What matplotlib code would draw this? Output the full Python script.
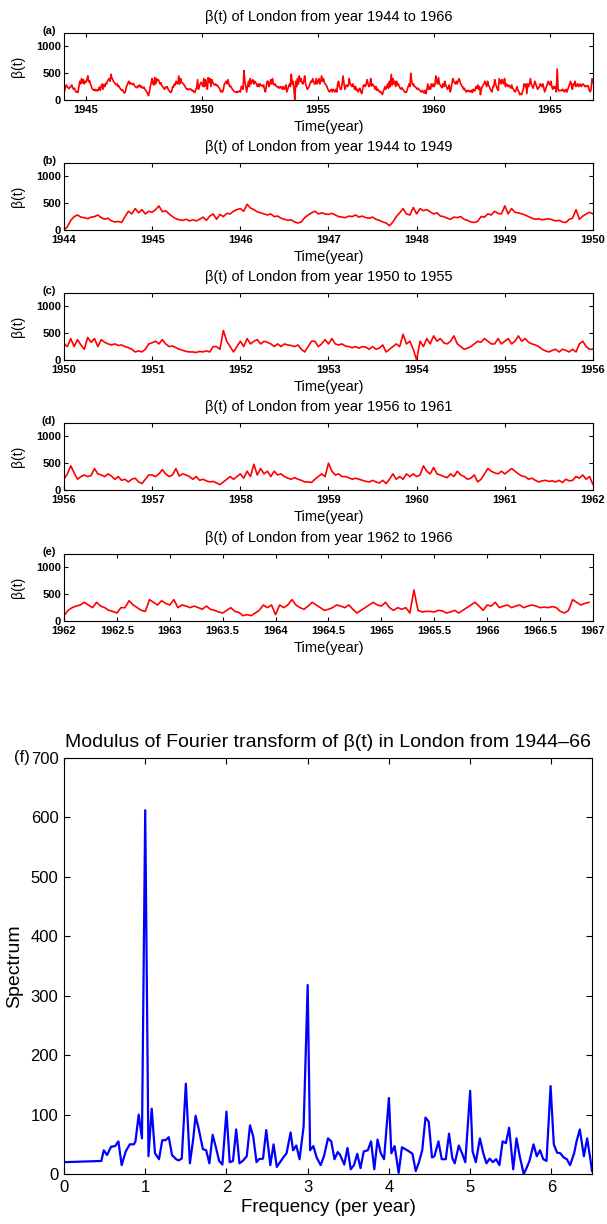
import numpy as np
import matplotlib
matplotlib.use('Agg')
import matplotlib.pyplot as plt

plt.rcParams['font.family'] = ['Liberation Sans', 'DejaVu Sans']

# biweekly transmission rate beta(t), London, one list per year (26 values each)
b1944 = [0, 60, 180, 250, 280, 240, 230, 210, 240, 250, 280, 230, 200, 220, 170, 150, 160, 140, 250, 350, 300, 400, 320, 380, 300, 350]
b1945 = [330, 380, 450, 340, 360, 300, 250, 210, 190, 180, 200, 170, 190, 170, 200, 240, 180, 260, 300, 200, 290, 250, 310, 300, 350, 380]
b1946 = [400, 350, 480, 410, 380, 340, 320, 300, 280, 300, 250, 260, 220, 200, 180, 190, 150, 130, 150, 230, 280, 320, 350, 300, 320, 300]
b1947 = [290, 310, 280, 250, 240, 230, 260, 250, 280, 240, 260, 230, 220, 240, 200, 180, 150, 130, 80, 150, 250, 320, 400, 300, 280, 420]
b1948 = [300, 400, 360, 380, 340, 300, 320, 260, 250, 220, 200, 240, 230, 250, 200, 180, 150, 140, 160, 250, 240, 300, 280, 350, 310, 300]
b1949 = [450, 300, 400, 330, 320, 300, 280, 250, 220, 200, 210, 190, 200, 210, 190, 170, 180, 150, 140, 200, 220, 380, 200, 260, 300, 330]
b1950 = [300, 250, 400, 250, 380, 280, 200, 420, 330, 400, 250, 380, 330, 300, 280, 300, 270, 280, 250, 230, 200, 150, 170, 150, 200, 300]
b1951 = [320, 350, 300, 380, 300, 250, 260, 230, 200, 180, 160, 150, 150, 140, 160, 150, 170, 150, 250, 250, 200, 550, 350, 250, 150, 250]
b1952 = [350, 250, 400, 300, 350, 380, 300, 350, 330, 300, 250, 300, 250, 300, 280, 270, 250, 280, 200, 150, 250, 350, 350, 250, 300, 380]
b1953 = [300, 400, 300, 280, 300, 260, 250, 230, 250, 220, 250, 240, 200, 250, 200, 220, 280, 150, 200, 250, 300, 250, 480, 300, 350, 200]
b1954 = [0, 350, 250, 400, 300, 450, 350, 400, 320, 300, 350, 450, 300, 250, 200, 220, 250, 300, 350, 330, 400, 350, 300, 300, 400, 300]
b1955 = [350, 400, 300, 350, 450, 350, 400, 330, 300, 280, 250, 200, 170, 150, 180, 200, 150, 200, 180, 150, 200, 150, 300, 350, 250, 200]
b1956 = [200, 300, 450, 320, 200, 250, 280, 250, 270, 400, 300, 280, 250, 300, 260, 200, 250, 180, 200, 150, 200, 220, 150, 120, 200, 280]
b1957 = [280, 250, 300, 380, 300, 250, 280, 400, 260, 300, 280, 250, 200, 250, 180, 200, 170, 150, 160, 130, 100, 150, 200, 250, 200, 250]
b1958 = [300, 220, 350, 250, 480, 280, 400, 300, 350, 250, 350, 280, 300, 250, 220, 200, 230, 200, 180, 150, 150, 140, 200, 250, 300, 250]
b1959 = [500, 350, 280, 300, 250, 250, 230, 200, 220, 200, 180, 160, 150, 180, 150, 130, 180, 120, 200, 300, 200, 250, 200, 300, 250, 300]
b1960 = [250, 280, 450, 350, 300, 420, 300, 280, 250, 230, 300, 250, 350, 280, 250, 200, 220, 280, 150, 200, 300, 400, 350, 320, 300, 350]
b1961 = [300, 350, 400, 350, 300, 260, 250, 200, 220, 180, 150, 170, 180, 160, 170, 150, 180, 140, 200, 170, 180, 250, 220, 280, 200, 250]
b1962 = [100, 200, 250, 280, 300, 350, 300, 250, 350, 280, 250, 200, 180, 150, 250, 250, 380, 300, 250, 200, 180, 400, 350, 300, 380, 330]
b1963 = [300, 400, 250, 300, 280, 250, 280, 250, 220, 280, 220, 200, 170, 150, 200, 250, 180, 160, 100, 120, 100, 150, 200, 300, 250, 300]
b1964 = [120, 300, 250, 300, 400, 300, 250, 220, 280, 350, 300, 250, 200, 220, 250, 300, 280, 250, 300, 220, 150, 200, 250, 300, 350, 300]
b1965 = [280, 350, 250, 200, 250, 220, 250, 150, 580, 200, 170, 180, 180, 170, 200, 190, 150, 170, 200, 150, 200, 250, 300, 350, 280, 200]
b1966 = [300, 280, 350, 250, 280, 300, 250, 280, 300, 250, 280, 300, 280, 250, 260, 250, 270, 250, 180, 150, 200, 400, 350, 300, 330, 350]

years = list(range(1944, 1967))
yearly = [b1944, b1945, b1946, b1947, b1948, b1949, b1950, b1951, b1952, b1953, b1954, b1955,
          b1956, b1957, b1958, b1959, b1960, b1961, b1962, b1963, b1964, b1965, b1966]

t = np.concatenate([y + np.arange(len(v)) / len(v) for y, v in zip(years, yearly)])
beta = np.concatenate([np.array(v, dtype=float) for v in yearly])

# modulus of the Fourier transform of beta(t)
freq = [0, 0.43, 0.46, 0.49, 0.53, 0.58, 0.63, 0.67, 0.71, 0.76, 0.81, 0.86, 0.88, 0.92, 0.96,
        1.0, 1.04, 1.08, 1.12, 1.17, 1.21, 1.25, 1.29, 1.33, 1.38, 1.41, 1.45, 1.5, 1.55, 1.59,
        1.62, 1.66, 1.71, 1.75, 1.79, 1.83, 1.87, 1.91, 1.95, 2.0, 2.04, 2.08, 2.12, 2.16, 2.2,
        2.25, 2.29, 2.33, 2.37, 2.4, 2.45, 2.49, 2.54, 2.58, 2.62, 2.66, 2.7, 2.74, 2.79, 2.82,
        2.86, 2.9, 2.95, 3.0, 3.03, 3.07, 3.11, 3.16, 3.2, 3.25, 3.29, 3.33, 3.37, 3.4, 3.45,
        3.49, 3.53, 3.57, 3.61, 3.65, 3.69, 3.74, 3.78, 3.82, 3.86, 3.9, 3.94, 4.0, 4.03, 4.07,
        4.12, 4.16, 4.2, 4.25, 4.29, 4.33, 4.37, 4.41, 4.45, 4.49, 4.53, 4.56, 4.61, 4.65, 4.7,
        4.74, 4.78, 4.81, 4.86, 4.9, 4.94, 5.0, 5.03, 5.07, 5.12, 5.16, 5.2, 5.24, 5.28, 5.32,
        5.36, 5.4, 5.44, 5.48, 5.53, 5.57, 5.61, 5.66, 5.7, 5.73, 5.78, 5.82, 5.86, 5.9, 5.94,
        5.99, 6.03, 6.07, 6.11, 6.15, 6.19, 6.23, 6.28, 6.31, 6.35, 6.4, 6.44, 6.48, 6.5]
spectrum = [20, 22, 22, 40, 32, 46, 47, 55, 15, 38, 50, 50, 55, 100, 60,
            612, 30, 110, 35, 25, 57, 57, 62, 32, 25, 23, 26, 152, 18, 58,
            98, 75, 42, 40, 18, 66, 45, 22, 16, 105, 20, 22, 75, 18, 22,
            30, 82, 63, 20, 25, 26, 74, 15, 50, 12, 20, 28, 35, 70, 40,
            48, 25, 80, 318, 40, 47, 28, 15, 30, 60, 55, 25, 37, 32, 16,
            44, 8, 15, 34, 10, 38, 40, 55, 8, 58, 35, 25, 128, 35, 47,
            2, 45, 42, 38, 34, 5, 20, 40, 95, 88, 28, 30, 55, 25, 25,
            68, 27, 18, 48, 35, 20, 140, 38, 20, 60, 36, 18, 26, 20, 25,
            15, 55, 52, 78, 8, 60, 30, 0, 12, 22, 50, 30, 40, 25, 22,
            148, 50, 36, 35, 28, 25, 15, 35, 55, 75, 30, 60, 25, 5]

panel_tags = ['(a)', '(b)', '(c)', '(d)', '(e)']
panel_titles = ['β(t) of London from year 1944 to 1966',
                'β(t) of London from year 1944 to 1949',
                'β(t) of London from year 1950 to 1955',
                'β(t) of London from year 1956 to 1961',
                'β(t) of London from year 1962 to 1966']
panel_xlims = [(1944.05, 1966.85), (1944, 1950), (1950, 1956), (1956, 1962), (1962, 1967)]
panel_xticks = [np.arange(1945, 1966, 5), np.arange(1944, 1951), np.arange(1950, 1957),
                np.arange(1956, 1963), np.arange(1962, 1967.01, 0.5)]
panel_bottoms = [0.9183, 0.8121, 0.7059, 0.5997, 0.4926]

fig = plt.figure(figsize=(6.07, 12.24), dpi=100)

for tag, title, xl, xt, bot in zip(panel_tags, panel_titles, panel_xlims, panel_xticks, panel_bottoms):
    ax = fig.add_axes([0.1054, bot, 0.8715, 0.0547])
    ax.plot(t, beta, color='#ff0000', lw=1.2)
    ax.set_xlim(*xl)
    ax.set_ylim(0, 1250)
    ax.set_yticks([0, 500, 1000])
    ax.set_xticks(xt)
    ax.set_xticklabels(['%g' % v for v in xt])
    ax.tick_params(direction='in', top=True, right=True, length=3, width=0.8,
                   labelsize=8, pad=2)
    ax.tick_params(axis='x', pad=3.5)
    for lab in ax.get_xticklabels() + ax.get_yticklabels():
        lab.set_fontweight('bold')
    ax.set_title(title, fontsize=10.5, pad=9)
    ax.set_xlabel('Time(year)', fontsize=10.5, labelpad=4)
    ax.set_ylabel('β(t)', fontsize=10, labelpad=8)
    ax.text(-0.015, 1.03, tag, transform=ax.transAxes, ha='right', va='center',
            fontsize=8, fontweight='bold')
    for s in ax.spines.values():
        s.set_linewidth(0.8)

axf = fig.add_axes([0.1054, 0.0408, 0.8699, 0.340])
axf.plot(freq, spectrum, color='#0000ff', lw=1.6)
axf.set_xlim(0, 6.5)
axf.set_ylim(0, 700)
axf.set_xticks(range(0, 7))
axf.set_yticks(range(0, 701, 100))
axf.tick_params(direction='in', top=True, right=True, length=4, width=0.8,
                labelsize=12, pad=4)
axf.set_title('Modulus of Fourier transform of β(t) in London from 1944–66',
              fontsize=14, pad=8)
axf.set_xlabel('Frequency (per year)', fontsize=13.5, labelpad=3)
axf.set_ylabel('Spectrum', fontsize=14, labelpad=5)
axf.text(-0.064, 1.0, '(f)', transform=axf.transAxes, ha='right', va='center', fontsize=12)
for s in axf.spines.values():
    s.set_linewidth(0.8)

fig.savefig('out.png', dpi=100)
